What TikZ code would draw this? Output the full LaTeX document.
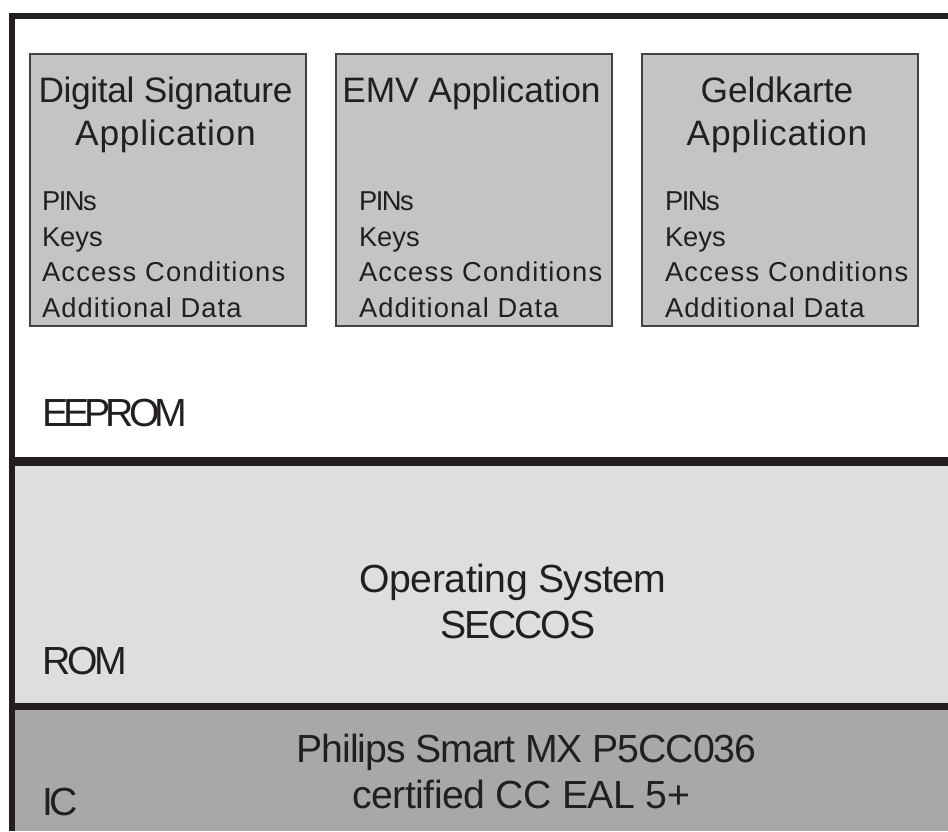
\documentclass[tikz,border=0pt]{standalone}
\usepackage{fontspec}
\setmainfont{Liberation Sans}
\newcommand{\LSp}[2]{{\addfontfeature{LetterSpace=#1}#2}}
\definecolor{inkdark}{HTML}{231F20}
\definecolor{boxgray}{HTML}{C4C4C4}
\definecolor{romgray}{HTML}{DEDEDD}
\definecolor{icgray}{HTML}{A8A8A8}
\tikzset{
  appbox/.style={draw=inkdark!85,line width=0.8pt,fill=boxgray,minimum width=207pt,minimum height=204pt,inner sep=0pt,outer sep=0pt},
  layer/.style={draw=none,inner sep=0pt,outer sep=0pt,minimum width=702pt},
  bigtext/.style={inner sep=0pt,outer sep=0pt,text=inkdark,align=center,font=\fontsize{26.5pt}{32.25pt}\selectfont},
  hugetext/.style={inner sep=0pt,outer sep=0pt,text=inkdark,align=center,font=\fontsize{29.4pt}{34.5pt}\selectfont},
  smalltext/.style={inner sep=0pt,outer sep=0pt,text=inkdark,align=left,font=\fontsize{20.5pt}{26.6pt}\selectfont}
}
\newcommand{\detaillines}{\LSp{-5.5}{PINs}\\Keys\\\LSp{4.5}{Access Conditions}\\\LSp{4}{Additional Data}}
\begin{document}
\begin{tikzpicture}[x=0.75pt,y=-0.75pt]
\useasboundingbox (0,0) rectangle (948,831);
\fill[white] (0,0) rectangle (948,831);
\node[layer,fill=romgray,minimum height=183pt] (rom) at (480,584) {};
\node[layer,fill=icgray,minimum height=93pt] (ic) at (480,769) {};
\draw[line width=5pt,draw=inkdark] (12,831) -- (12,16) -- (948,16);
\draw[line width=6.5pt,draw=inkdark] (9,461.5) -- (948,461.5);
\draw[line width=5pt,draw=inkdark] (9,706.5) -- (948,706.5);
\node[appbox] (a1) at (168,190) {};
\node[appbox] (a2) at (474,190) {};
\node[appbox] (a3) at (780,190) {};
\node[bigtext,anchor=north] (t1) at (165.5,76.8) {\LSp{-1}{Digital Signature}\\\LSp{2.2}{Application}};
\node[bigtext,anchor=north] (t2) at (471.5,76.8) {\LSp{-0.2}{EMV Application}};
\node[bigtext,anchor=north] (t3) at (777,76.8) {\LSp{-0.2}{Geldkarte}\\\LSp{2.2}{Application}};
\node[smalltext,anchor=north west] (d1) at (42,192) {\detaillines};
\node[smalltext,anchor=north west] (d2) at (359,192) {\detaillines};
\node[smalltext,anchor=north west] (d3) at (665,192) {\detaillines};
\node[hugetext,anchor=base west] (ee) at (42,426) {\LSp{-12.5}{EEPROM}};
\node[hugetext,anchor=north] (os) at (513,564.2) {\LSp{-1.2}{Operating System}\\\hspace*{7.5pt}\LSp{-5.5}{SECCOS}};
\node[hugetext,anchor=base west] (romlabel) at (42,674) {\LSp{-7.5}{ROM}};
\node[hugetext,anchor=north] (ph) at (526.5,733.6) {\LSp{-2.8}{Philips Smart MX P5CC036}\\\LSp{-1.3}{certified CC EAL 5+}\hspace*{8pt}};
\node[hugetext,anchor=base west] (iclabel) at (42,815) {\LSp{-9}{IC}};
\end{tikzpicture}
\end{document}
